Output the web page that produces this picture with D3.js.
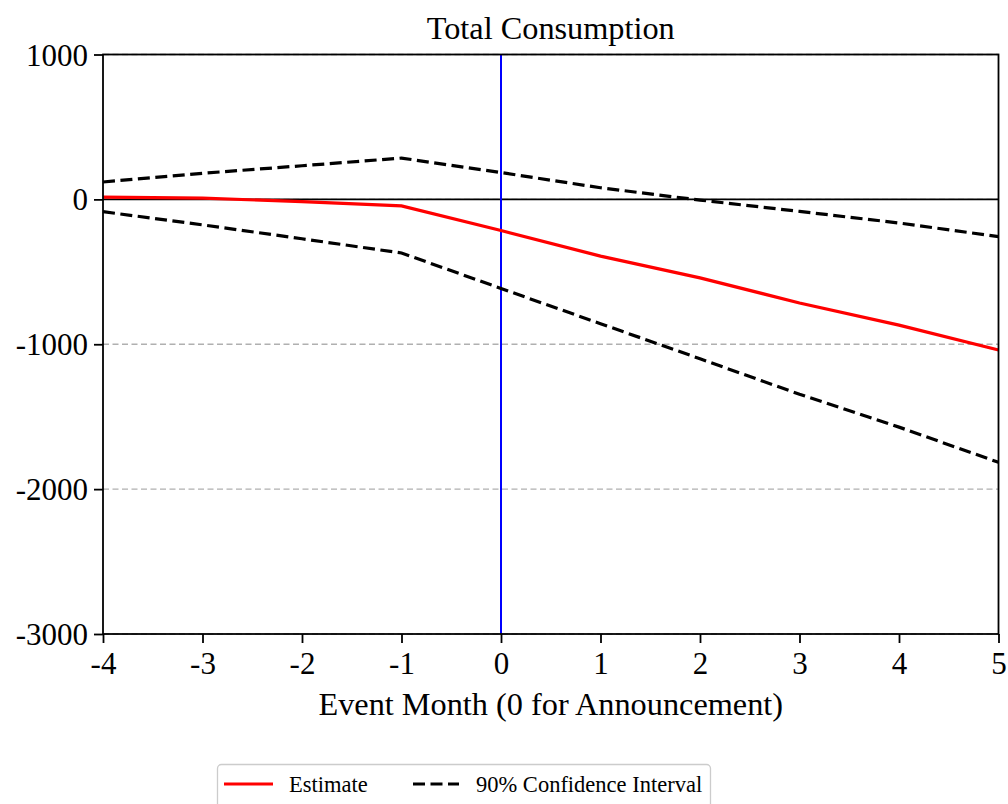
<!DOCTYPE html>
<html>
<head>
<meta charset="utf-8">
<script src="https://cdn.jsdelivr.net/npm/d3@7"></script>
<style>
  html, body { margin: 0; padding: 0; background: #fff; }
  svg { display: block; }
  text { font-family: "Liberation Serif", "Times New Roman", serif; fill: #000; }
</style>
</head>
<body>
<svg id="chart" width="1008" height="804"></svg>
<script>
// ---- data ----
const months = [-4, -3, -2, -1, 0, 1, 2, 3, 4, 5];
const estimate = [15, 8, -15, -45, -215, -392, -542, -715, -868, -1040];
const upperCI = [120, 180, 232, 285, 185, 80, -5, -83, -163, -257];
const lowerCI = [-85, -176, -272, -370, -615, -858, -1100, -1345, -1572, -1815];
const xTicks = [-4, -3, -2, -1, 0, 1, 2, 3, 4, 5];
const yTicks = [1000, 0, -1000, -2000, -3000];
const titleText = "Total Consumption";
const xLabelText = "Event Month (0 for Announcement)";
const legendLabels = ["Estimate", "90% Confidence Interval"];

// ---- layout ----
const svg = d3.select("#chart");
const L = 103, R = 998.5, T = 54.5, B = 634;

const x = d3.scaleLinear().domain([-4, 5]).range([L, R]);
const y = d3.scaleLinear().domain([-3000, 1000]).range([B, T]);

// grid (dashed gray)
svg.append("g").selectAll("line").data(yTicks).join("line")
  .attr("x1", L).attr("x2", R)
  .attr("y1", d => y(d)).attr("y2", d => y(d))
  .attr("stroke", "#b0b0b0").attr("stroke-width", 1.3)
  .attr("stroke-dasharray", "6,3.5");

// zero line
svg.append("line")
  .attr("x1", L).attr("x2", R).attr("y1", y(0)).attr("y2", y(0))
  .attr("stroke", "#000").attr("stroke-width", 1.8);

// announcement line
svg.append("line")
  .attr("x1", x(0)).attr("x2", x(0)).attr("y1", T).attr("y2", B)
  .attr("stroke", "#0000ff").attr("stroke-width", 2);

const line = d3.line().x((d, i) => x(months[i])).y(d => y(d));

svg.append("path").datum(upperCI).attr("d", line)
  .attr("fill", "none").attr("stroke", "#000").attr("stroke-width", 3.2)
  .attr("stroke-dasharray", "12,5.5");
svg.append("path").datum(lowerCI).attr("d", line)
  .attr("fill", "none").attr("stroke", "#000").attr("stroke-width", 3.2)
  .attr("stroke-dasharray", "12,5.5");
svg.append("path").datum(estimate).attr("d", line)
  .attr("fill", "none").attr("stroke", "#ff0000").attr("stroke-width", 3.2);

// axes
const xAxis = d3.axisBottom(x).tickValues(xTicks).tickSize(9).tickPadding(5)
  .tickFormat(d => String(d));
const yAxis = d3.axisLeft(y).tickValues(yTicks).tickSize(9).tickPadding(6)
  .tickFormat(d => String(d));

const gx = svg.append("g").attr("transform", `translate(0,${B})`).call(xAxis);
const gy = svg.append("g").attr("transform", `translate(${L},0)`).call(yAxis);
[gx, gy].forEach(g => {
  g.select(".domain").remove();
  g.selectAll(".tick line").attr("stroke", "#000").attr("stroke-width", 1.8);
  g.selectAll(".tick text").style("font-size", "31px")
    .style("font-family", '"Liberation Serif", serif').attr("fill", "#000");
});
gx.selectAll(".tick text").attr("dy", "0.85em");
gy.selectAll(".tick text").attr("dy", "0.34em");

// frame
svg.append("rect").attr("x", L).attr("y", T).attr("width", R - L).attr("height", B - T)
  .attr("fill", "none").attr("stroke", "#000").attr("stroke-width", 1.8);

// title & labels
svg.append("text").attr("x", (L + R) / 2).attr("y", 39).attr("text-anchor", "middle")
  .style("font-size", "32.3px").text(titleText);
svg.append("text").attr("x", (L + R) / 2).attr("y", 715).attr("text-anchor", "middle")
  .style("font-size", "32.3px").text(xLabelText);

// legend
const lg = svg.append("g");
lg.append("rect").attr("x", 217.5).attr("y", 764.5).attr("width", 493).attr("height", 50)
  .attr("rx", 4).attr("fill", "#fff").attr("stroke", "#cccccc").attr("stroke-width", 1.3);
lg.append("line").attr("x1", 224).attr("x2", 273).attr("y1", 784).attr("y2", 784)
  .attr("stroke", "#ff0000").attr("stroke-width", 3.2);
lg.append("text").attr("x", 289).attr("y", 792).style("font-size", "22.5px").text(legendLabels[0]);
lg.append("line").attr("x1", 413).attr("x2", 459).attr("y1", 784).attr("y2", 784)
  .attr("stroke", "#000").attr("stroke-width", 3.2).attr("stroke-dasharray", "12,5.5");
lg.append("text").attr("x", 476).attr("y", 792).style("font-size", "22.5px").text(legendLabels[1]);
</script>
</body>
</html>
